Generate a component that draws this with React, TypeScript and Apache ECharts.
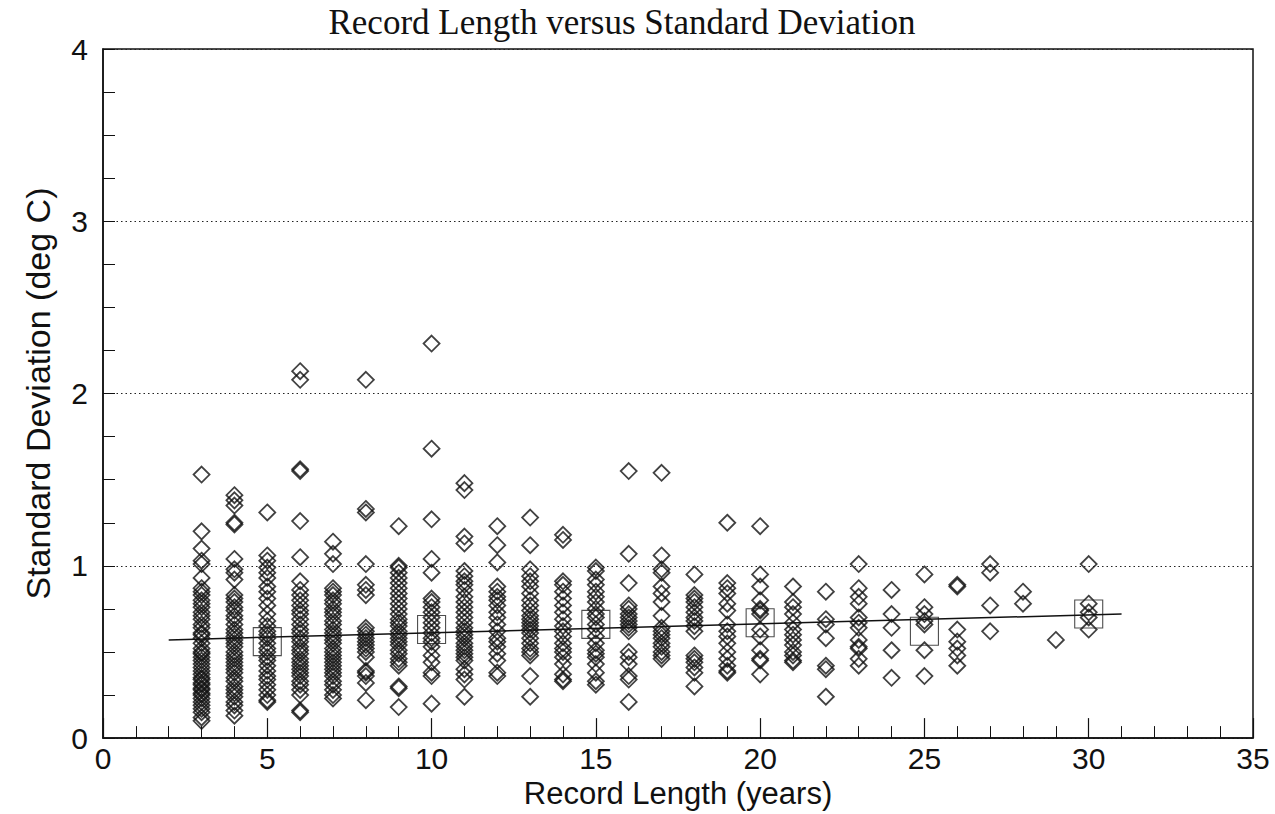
import React, { useEffect, useRef } from "react";
import * as echarts from "echarts";

// Standard deviation (deg C) observed for each record length (years)
const sd03 = [1.53, 1.2, 1.1, 1.03, 1.01, 0.93, 0.87, 0.85, 0.83, 0.8, 0.78, 0.76, 0.73, 0.71, 0.69, 0.66, 0.64, 0.61, 0.6, 0.58, 0.55, 0.52, 0.5, 0.49, 0.47, 0.45, 0.43, 0.41, 0.39, 0.37, 0.35, 0.34, 0.32, 0.31, 0.29, 0.28, 0.26, 0.25, 0.23, 0.21, 0.19, 0.17, 0.15, 0.12, 0.1];
const sd04 = [1.41, 1.38, 1.35, 1.25, 1.24, 1.04, 0.98, 0.96, 0.92, 0.83, 0.81, 0.79, 0.76, 0.74, 0.71, 0.69, 0.66, 0.63, 0.61, 0.59, 0.57, 0.55, 0.53, 0.5, 0.48, 0.46, 0.44, 0.42, 0.4, 0.38, 0.35, 0.33, 0.3, 0.28, 0.26, 0.24, 0.21, 0.19, 0.16, 0.13];
const sd05 = [1.31, 1.06, 1.03, 0.99, 0.96, 0.93, 0.88, 0.85, 0.81, 0.77, 0.72, 0.68, 0.65, 0.62, 0.6, 0.58, 0.55, 0.52, 0.5, 0.47, 0.45, 0.42, 0.39, 0.36, 0.34, 0.31, 0.28, 0.25, 0.22, 0.21];
const sd06 = [2.13, 2.08, 1.56, 1.55, 1.26, 1.05, 0.91, 0.86, 0.83, 0.8, 0.77, 0.74, 0.72, 0.69, 0.66, 0.63, 0.61, 0.58, 0.56, 0.53, 0.51, 0.49, 0.46, 0.44, 0.42, 0.4, 0.38, 0.36, 0.33, 0.31, 0.28, 0.25, 0.16, 0.15];
const sd07 = [1.14, 1.07, 1.01, 0.87, 0.85, 0.83, 0.8, 0.78, 0.75, 0.73, 0.71, 0.68, 0.66, 0.63, 0.61, 0.59, 0.57, 0.55, 0.52, 0.5, 0.48, 0.46, 0.44, 0.42, 0.4, 0.38, 0.36, 0.33, 0.31, 0.28, 0.25, 0.23];
const sd08 = [2.08, 1.33, 1.31, 1.01, 0.89, 0.86, 0.83, 0.64, 0.62, 0.6, 0.58, 0.56, 0.54, 0.52, 0.5, 0.47, 0.39, 0.38, 0.36, 0.32, 0.22];
const sd09 = [1.23, 1.0, 0.99, 0.96, 0.93, 0.9, 0.87, 0.84, 0.81, 0.78, 0.75, 0.72, 0.69, 0.67, 0.65, 0.62, 0.6, 0.58, 0.56, 0.54, 0.51, 0.49, 0.46, 0.44, 0.42, 0.3, 0.29, 0.18];
const sd10 = [2.29, 1.68, 1.27, 1.04, 0.96, 0.81, 0.79, 0.76, 0.73, 0.7, 0.67, 0.64, 0.61, 0.58, 0.56, 0.53, 0.48, 0.44, 0.38, 0.36, 0.2];
const sd11 = [1.48, 1.44, 1.17, 1.13, 0.97, 0.94, 0.91, 0.89, 0.86, 0.82, 0.79, 0.76, 0.73, 0.7, 0.67, 0.64, 0.62, 0.6, 0.58, 0.55, 0.53, 0.51, 0.49, 0.47, 0.45, 0.4, 0.37, 0.34, 0.24];
const sd12 = [1.23, 1.12, 1.02, 0.88, 0.85, 0.82, 0.8, 0.77, 0.73, 0.7, 0.66, 0.62, 0.58, 0.56, 0.53, 0.49, 0.45, 0.38, 0.36];
const sd13 = [1.28, 1.12, 0.98, 0.94, 0.91, 0.88, 0.84, 0.8, 0.77, 0.74, 0.71, 0.69, 0.67, 0.65, 0.63, 0.61, 0.58, 0.55, 0.52, 0.5, 0.48, 0.36, 0.24];
const sd14 = [1.18, 1.15, 0.91, 0.89, 0.85, 0.81, 0.77, 0.73, 0.69, 0.65, 0.62, 0.59, 0.55, 0.52, 0.5, 0.47, 0.43, 0.37, 0.34, 0.33];
const sd15 = [0.99, 0.97, 0.92, 0.89, 0.85, 0.82, 0.79, 0.75, 0.72, 0.7, 0.66, 0.63, 0.59, 0.55, 0.51, 0.49, 0.47, 0.43, 0.38, 0.33, 0.31];
const sd16 = [1.55, 1.07, 0.9, 0.77, 0.75, 0.72, 0.7, 0.68, 0.66, 0.64, 0.62, 0.5, 0.47, 0.43, 0.36, 0.34, 0.21];
const sd17 = [1.54, 1.06, 0.98, 0.96, 0.88, 0.84, 0.79, 0.71, 0.64, 0.62, 0.6, 0.58, 0.55, 0.53, 0.5, 0.48, 0.46];
const sd18 = [0.95, 0.83, 0.81, 0.79, 0.76, 0.73, 0.7, 0.68, 0.65, 0.62, 0.48, 0.46, 0.44, 0.41, 0.38, 0.3];
const sd19 = [1.25, 0.9, 0.87, 0.84, 0.78, 0.74, 0.66, 0.62, 0.59, 0.55, 0.5, 0.46, 0.42, 0.39, 0.38];
const sd20 = [1.23, 0.95, 0.88, 0.8, 0.75, 0.74, 0.72, 0.63, 0.59, 0.51, 0.46, 0.45, 0.37];
const sd21 = [0.88, 0.79, 0.76, 0.72, 0.67, 0.63, 0.6, 0.57, 0.54, 0.5, 0.48, 0.45, 0.44];
const sd22 = [0.85, 0.69, 0.66, 0.58, 0.42, 0.4, 0.24];
const sd23 = [1.01, 0.87, 0.82, 0.78, 0.7, 0.67, 0.64, 0.57, 0.53, 0.52, 0.46, 0.42];
const sd24 = [0.86, 0.72, 0.64, 0.51, 0.35];
const sd25 = [0.95, 0.76, 0.72, 0.68, 0.66, 0.51, 0.36];
const sd26 = [0.89, 0.88, 0.63, 0.56, 0.52, 0.48, 0.42];
const sd27 = [1.01, 0.96, 0.77, 0.62];
const sd28 = [0.85, 0.78];
const sd29 = [0.57];
const sd30 = [1.01, 0.78, 0.73, 0.7, 0.63];

const recordLengths = [3, 4, 5, 6, 7, 8, 9, 10, 11, 12, 13, 14, 15, 16, 17, 18, 19, 20, 21, 22, 23, 24, 25, 26, 27, 28, 29, 30];
const sdColumns = [sd03, sd04, sd05, sd06, sd07, sd08, sd09, sd10, sd11, sd12, sd13, sd14, sd15, sd16, sd17, sd18, sd19, sd20, sd21, sd22, sd23, sd24, sd25, sd26, sd27, sd28, sd29, sd30];

// Binned means (squares)
const meanX = [5, 10, 15, 20, 25, 30];
const meanY = [0.56, 0.63, 0.66, 0.67, 0.62, 0.72];

// Fitted trend line
const trendX = [2, 31];
const trendY = [0.57, 0.72];

const TITLE = "Record Length versus Standard Deviation";
const X_NAME = "Record Length (years)";
const Y_NAME = "Standard Deviation (deg C)";

export default function App() {
  const ref = useRef<HTMLDivElement>(null);

  useEffect(() => {
    document.body.style.margin = "0";
    if (!ref.current) return;
    const chart = echarts.init(ref.current, undefined, { renderer: "svg" });

    const points: number[][] = [];
    recordLengths.forEach((x, i) => {
      sdColumns[i].forEach((y) => points.push([x, y]));
    });

    const sans = "Liberation Sans, Arial, sans-serif";

    chart.setOption({
      animation: false,
      backgroundColor: "#ffffff",
      title: {
        text: TITLE,
        left: 617,
        textAlign: "center",
        top: 0,
        textStyle: {
          fontFamily: "Liberation Serif, Times New Roman, serif",
          fontWeight: "normal",
          fontSize: 35,
          color: "#111",
        },
      },
      grid: {
        left: 103,
        right: 22,
        top: 49,
        bottom: 72,
        show: true,
        borderColor: "#111",
        borderWidth: 1.5,
        backgroundColor: "transparent",
      },
      xAxis: {
        type: "value",
        min: 0,
        max: 35,
        interval: 5,
        name: X_NAME,
        nameLocation: "middle",
        nameGap: 32,
        nameTextStyle: { fontFamily: sans, fontSize: 31, color: "#111" },
        axisLine: { show: true, onZero: false, lineStyle: { color: "#111", width: 1.5 } },
        axisTick: { show: true, inside: true, length: 20, lineStyle: { color: "#111", width: 1.2 } },
        minorTick: { show: true, splitNumber: 5, length: 12, lineStyle: { color: "#111", width: 1 } },
        axisLabel: { fontFamily: sans, fontSize: 30, color: "#111", margin: 5 },
        splitLine: { show: false },
      },
      yAxis: {
        type: "value",
        min: 0,
        max: 4,
        interval: 1,
        name: Y_NAME,
        nameLocation: "middle",
        nameRotate: 90,
        nameGap: 48,
        nameTextStyle: { fontFamily: sans, fontSize: 34, color: "#111" },
        axisLine: { show: true, onZero: false, lineStyle: { color: "#111", width: 1.5 } },
        axisTick: { show: true, inside: true, length: 12, lineStyle: { color: "#111", width: 1 } },
        minorTick: { show: true, splitNumber: 4, length: 12, lineStyle: { color: "#111", width: 1 } },
        axisLabel: { fontFamily: sans, fontSize: 30, color: "#111", margin: 15 },
        splitLine: {
          show: true,
          lineStyle: { color: "#222", type: [1.5, 3], width: 1.2 },
        },
      },
      series: [
        {
          type: "scatter",
          data: points,
          symbol: "diamond",
          symbolSize: [16, 16],
          itemStyle: { color: "rgba(0,0,0,0)", borderColor: "#111", borderWidth: 1.8 },
          z: 3,
        },
        {
          type: "scatter",
          data: meanX.map((x, i) => [x, meanY[i]]),
          symbol: "rect",
          symbolSize: 28,
          itemStyle: { color: "rgba(0,0,0,0)", borderColor: "#222", borderWidth: 1.1 },
          z: 4,
        },
        {
          type: "line",
          data: trendX.map((x, i) => [x, trendY[i]]),
          showSymbol: false,
          symbol: "none",
          lineStyle: { color: "#111", width: 1.5 },
          z: 5,
        },
      ],
    });

    return () => chart.dispose();
  }, []);

  return <div ref={ref} style={{ width: 1275, height: 814 }} />;
}
